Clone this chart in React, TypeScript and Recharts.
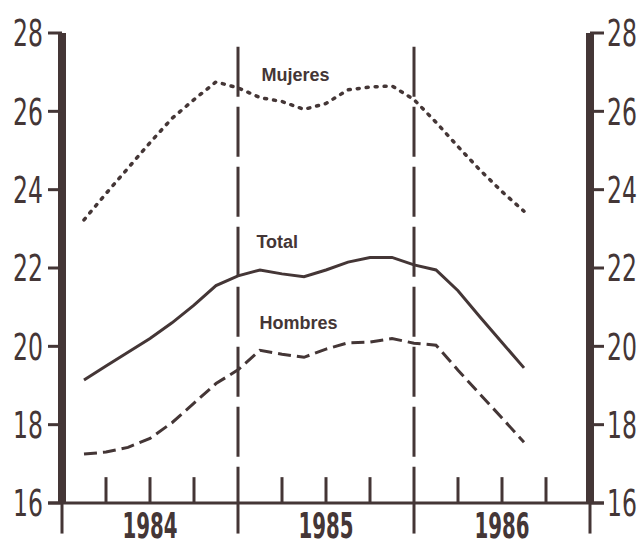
import { LineChart, Line, XAxis, YAxis, ReferenceLine, ReferenceDot } from 'recharts';

// months since Jan 1984
const months = [1.5, 3, 4.5, 6, 7.5, 9, 10.5, 12, 13.5, 15, 16.5, 18, 19.5, 21, 22.5, 24, 25.5, 27, 28.5, 30, 31.5];
const mujeres = [23.23, 23.9, 24.55, 25.2, 25.82, 26.3, 26.75, 26.6, 26.35, 26.25, 26.05, 26.2, 26.55, 26.62, 26.65, 26.3, 25.72, 25.1, 24.5, 23.95, 23.45];
const total = [19.14, 19.5, 19.85, 20.2, 20.6, 21.05, 21.55, 21.8, 21.95, 21.85, 21.78, 21.95, 22.15, 22.27, 22.27, 22.08, 21.95, 21.42, 20.75, 20.1, 19.45];
const hombres = [17.25, 17.3, 17.42, 17.65, 18.05, 18.55, 19.05, 19.4, 19.9, 19.8, 19.72, 19.93, 20.09, 20.11, 20.2, 20.08, 20.03, 19.39, 18.78, 18.17, 17.55];

const yTicks = [16, 18, 20, 22, 24, 26, 28];
const yearTicks = [6, 18, 30];
const yearLabels = ['1984', '1985', '1986'];
const quarterTicks = [3, 6, 9, 15, 18, 21, 27, 30, 33];
const yearBounds = [12, 24];
const axisEnds = [0, 12, 24, 36];

const INK = '#443636';

const data = months.map((m, i) => ({
  m,
  mujeres: mujeres[i],
  total: total[i],
  hombres: hombres[i],
}));

function NumTick({ x, y, payload, textAnchor }: any) {
  return (
    <g transform={`translate(${x},${y}) scale(0.62,1)`}>
      <text
        textAnchor={textAnchor}
        dominantBaseline="central"
        fontFamily="'DejaVu Sans', sans-serif"
        fontSize={38}
        fill={INK}
      >
        {payload.value}
      </text>
    </g>
  );
}

function YearTick({ x, y, payload }: any) {
  const label = yearLabels[yearTicks.indexOf(payload.value)];
  return (
    <g transform={`translate(${x},${y}) scale(0.55,1)`}>
      <text
        textAnchor="middle"
        dominantBaseline="central"
        fontFamily="'DejaVu Sans', sans-serif"
        fontWeight={700}
        fontSize={36}
        fill={INK}
      >
        {label}
      </text>
    </g>
  );
}

function SeriesLabel({ viewBox, text }: any) {
  return (
    <text
      x={viewBox.x}
      y={viewBox.y}
      fontFamily="'Liberation Sans', Arial, sans-serif"
      fontWeight={700}
      fontSize={18}
      fill={INK}
    >
      {text}
    </text>
  );
}

export default function App() {
  return (
    <div style={{ position: 'absolute', left: 0, top: 0, width: 642, height: 548, background: '#ffffff' }}>
      <LineChart width={642} height={548} data={data} margin={{ top: 33, right: 0, bottom: 0, left: 0 }}>
        <XAxis
          dataKey="m"
          type="number"
          domain={[0, 36]}
          ticks={yearTicks}
          axisLine={false}
          tickLine={false}
          tickSize={6}
          tickMargin={17}
          height={45}
          tick={<YearTick />}
        />
        <YAxis
          domain={[16, 28]}
          ticks={yTicks}
          width={62}
          tickSize={14}
          tickMargin={5}
          axisLine={{ stroke: INK, strokeWidth: 8 }}
          tickLine={{ stroke: INK, strokeWidth: 3 }}
          tick={<NumTick />}
        />
        <YAxis
          yAxisId="r"
          orientation="right"
          type="number"
          domain={[16, 28]}
          allowDataOverflow
          ticks={yTicks}
          width={52}
          tickSize={14}
          tickMargin={3}
          axisLine={{ stroke: INK, strokeWidth: 8 }}
          tickLine={{ stroke: INK, strokeWidth: 3 }}
          tick={<NumTick />}
        />

        {/* base line, running a bit past both vertical axes */}
        <ReferenceLine
          segment={[{ x: -0.95, y: 16 }, { x: 36.95, y: 16 }]}
          stroke={INK}
          strokeWidth={3}
          ifOverflow="visible"
        />
        {quarterTicks.map((q) => (
          <ReferenceLine
            key={`q${q}`}
            segment={[{ x: q, y: 16 }, { x: q, y: 16.66 }]}
            stroke={INK}
            strokeWidth={3}
          />
        ))}
        {axisEnds.map((q) => (
          <ReferenceLine
            key={`e${q}`}
            segment={[{ x: q, y: 16 }, { x: q, y: 15.22 }]}
            stroke={INK}
            strokeWidth={3}
            ifOverflow="visible"
          />
        ))}
        {yearBounds.map((q) => (
          <ReferenceLine
            key={`b${q}`}
            segment={[{ x: q, y: 27.65 }, { x: q, y: 16 }]}
            stroke={INK}
            strokeWidth={3}
            strokeDasharray="50 10"
          />
        ))}

        <Line
          dataKey="mujeres"
          stroke={INK}
          strokeWidth={3.5}
          strokeDasharray="2 7"
          strokeLinecap="round"
          dot={false}
          isAnimationActive={false}
        />
        <Line dataKey="total" stroke={INK} strokeWidth={3} dot={false} isAnimationActive={false} />
        <Line
          dataKey="hombres"
          stroke={INK}
          strokeWidth={3}
          strokeDasharray="13 6"
          dot={false}
          isAnimationActive={false}
        />
        {/* invisible copy so the right-hand scale gets its ticks */}
        <Line
          yAxisId="r"
          dataKey="total"
          stroke="none"
          dot={false}
          activeDot={false}
          isAnimationActive={false}
        />

        <ReferenceDot x={13.63} y={26.75} r={0.5} fill="none" stroke="none" label={<SeriesLabel text="Mujeres" />} />
        <ReferenceDot x={13.29} y={22.51} r={0.5} fill="none" stroke="none" label={<SeriesLabel text="Total" />} />
        <ReferenceDot x={13.5} y={20.42} r={0.5} fill="none" stroke="none" label={<SeriesLabel text="Hombres" />} />
      </LineChart>
    </div>
  );
}
